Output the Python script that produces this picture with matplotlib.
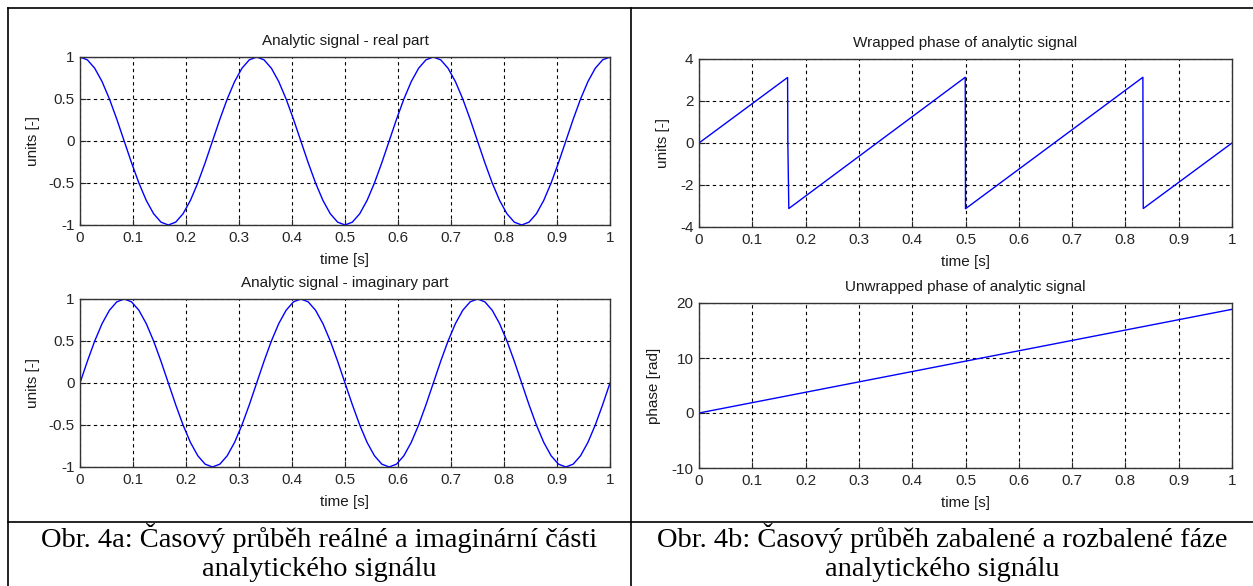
import matplotlib
matplotlib.use("Agg")
from matplotlib import pyplot as plt
from matplotlib.lines import Line2D
import numpy as np

real_part = [
    1.0, 0.966, 0.866, 0.707, 0.5, 0.259, 0.0, -0.259, -0.5, -0.707, -0.866, -0.966,
    -1.0, -0.966, -0.866, -0.707, -0.5, -0.259, 0.0, 0.259, 0.5, 0.707, 0.866, 0.966,
    1.0, 0.966, 0.866, 0.707, 0.5, 0.259, 0.0, -0.259, -0.5, -0.707, -0.866, -0.966,
    -1.0, -0.966, -0.866, -0.707, -0.5, -0.259, 0.0, 0.259, 0.5, 0.707, 0.866, 0.966,
    1.0, 0.966, 0.866, 0.707, 0.5, 0.259, 0.0, -0.259, -0.5, -0.707, -0.866, -0.966,
    -1.0, -0.966, -0.866, -0.707, -0.5, -0.259, 0.0, 0.259, 0.5, 0.707, 0.866, 0.966,
    1.0,
]
imag_part = [
    0.0, 0.259, 0.5, 0.707, 0.866, 0.966, 1.0, 0.966, 0.866, 0.707, 0.5, 0.259,
    0.0, -0.259, -0.5, -0.707, -0.866, -0.966, -1.0, -0.966, -0.866, -0.707, -0.5, -0.259,
    0.0, 0.259, 0.5, 0.707, 0.866, 0.966, 1.0, 0.966, 0.866, 0.707, 0.5, 0.259,
    0.0, -0.259, -0.5, -0.707, -0.866, -0.966, -1.0, -0.966, -0.866, -0.707, -0.5, -0.259,
    0.0, 0.259, 0.5, 0.707, 0.866, 0.966, 1.0, 0.966, 0.866, 0.707, 0.5, 0.259,
    0.0, -0.259, -0.5, -0.707, -0.866, -0.966, -1.0, -0.966, -0.866, -0.707, -0.5, -0.259,
    0.0,
]
signal_time = np.linspace(0, 1, len(real_part))

# wrapped phase: corner points of the sawtooth
wrapped_time = [0.0, 0.1662, 0.1667, 0.1685, 0.4995, 0.5, 0.8328, 0.8335, 1.0]
wrapped_phase = [0.0, 3.12, 0.0, -3.12, 3.13, -3.13, 3.13, -3.12, 0.0]

unwrapped_time = [0.0, 1.0]
unwrapped_phase = [0.0, 18.85]

time_ticks = [0, 0.1, 0.2, 0.3, 0.4, 0.5, 0.6, 0.7, 0.8, 0.9, 1]
time_labels = ["0", "0.1", "0.2", "0.3", "0.4", "0.5", "0.6", "0.7", "0.8", "0.9", "1"]

caption_a = ["Obr. 4a: Časový průběh reálné a imaginární části", "analytického signálu"]
caption_b = ["Obr. 4b: Časový průběh zabalené a rozbalené fáze", "analytického signálu"]

W, H = 1253, 586
plt.rcParams["font.family"] = ["Liberation Sans", "DejaVu Sans"]

fig = plt.figure(figsize=(W / 100, H / 100), dpi=100)
fig.patch.set_facecolor("white")


def px_axes(x0, y0, x1, y1):
    return fig.add_axes([x0 / W, 1 - y1 / H, (x1 - x0) / W, (y1 - y0) / H])


def style(ax, title, ylabel, yticks, ylabels, ylim, ylabel_x):
    ax.set_xlim(0, 1)
    ax.set_ylim(*ylim)
    ax.set_xticks(time_ticks, time_labels)
    ax.set_yticks(yticks, ylabels)
    ax.tick_params(direction="in", length=4, width=0.8, labelsize=11,
                   colors="0.15", pad=4)
    ax.grid(True, color="black", linestyle=(0, (3, 3)), linewidth=0.8)
    for s in ax.spines.values():
        s.set_color("0.2")
        s.set_linewidth(1.0)
    ax.set_title(title, fontsize=11, pad=9, color="0.1")
    ax.set_xlabel("time [s]", fontsize=11, labelpad=6, color="0.1")
    ax.set_ylabel(ylabel, fontsize=11, color="0.1")
    ax.yaxis.set_label_coords(ylabel_x, 0.5)


ax1 = px_axes(80, 57, 610, 225)
ax1.plot(signal_time, real_part, color="blue", lw=1.0)
style(ax1, "Analytic signal - real part", "units [-]",
      [-1, -0.5, 0, 0.5, 1], ["-1", "-0.5", "0", "0.5", "1"], (-1, 1), -0.076)

ax2 = px_axes(80, 299, 610, 467)
ax2.plot(signal_time, imag_part, color="blue", lw=1.0)
style(ax2, "Analytic signal - imaginary part", "units [-]",
      [-1, -0.5, 0, 0.5, 1], ["-1", "-0.5", "0", "0.5", "1"], (-1, 1), -0.076)

ax3 = px_axes(699, 59, 1232, 227)
ax3.plot(wrapped_time, wrapped_phase, color="blue", lw=1.0)
style(ax3, "Wrapped phase of analytic signal", "units [-]",
      [-4, -2, 0, 2, 4], ["-4", "-2", "0", "2", "4"], (-4, 4), -0.054)

ax4 = px_axes(699, 303, 1232, 468)
ax4.plot(unwrapped_time, unwrapped_phase, color="blue", lw=1.0)
style(ax4, "Unwrapped phase of analytic signal", "phase [rad]",
      [-10, 0, 10, 20], ["-10", "0", "10", "20"], (-10, 20), -0.071)


# table frame
def fline(x0, y0, x1, y1):
    fig.add_artist(Line2D([x0 / W, x1 / W], [1 - y0 / H, 1 - y1 / H],
                          color="black", lw=1.2, transform=fig.transFigure))


fline(7.5, 8, 1253, 8)
fline(7.5, 8, 7.5, 586)
fline(631, 8, 631, 586)
fline(7.5, 521.5, 1253, 521.5)

serif = ["Liberation Serif", "DejaVu Serif"]
for cx, lines in [(319, caption_a), (942, caption_b)]:
    fig.text(cx / W, 1 - 538 / H, lines[0], ha="center", va="center",
             fontsize=20.5, family=serif)
    fig.text(cx / W, 1 - 570 / H, lines[1], ha="center", va="center",
             fontsize=20.5, family=serif)

fig.savefig("out.png", dpi=100)
